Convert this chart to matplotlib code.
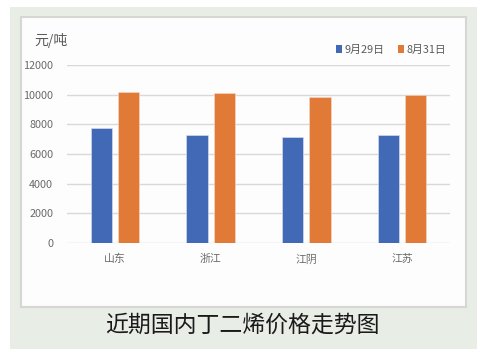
import numpy as np
import matplotlib
matplotlib.use("Agg")
import matplotlib.pyplot as plt
from matplotlib.patches import Rectangle, Patch

plt.rcParams['font.family'] = ['Noto Sans CJK SC', 'DejaVu Sans']

regions = ['山东', '浙江', '江阴', '江苏']
sep29 = [7750, 7300, 7150, 7300]
aug31 = [10150, 10100, 9850, 9950]
series_names = ['9月29日', '8月31日']
yticks = [0, 2000, 4000, 6000, 8000, 10000, 12000]
title = '近期国内丁二烯价格走势图'

W, H = 485, 359
fig = plt.figure(figsize=(W / 100, H / 100), dpi=100)
fig.patch.set_facecolor('white')


def px(x0, y0, x1, y1):
    # pixel box (top-left origin) -> figure fraction rect
    return (x0 / W, 1 - y1 / H), (x1 - x0) / W, (y1 - y0) / H


# greenish backdrop and white panel
xy, w, h = px(10, 7, 477, 349)
fig.patches.append(Rectangle(xy, w, h, transform=fig.transFigure,
                             facecolor='#e8ede6', edgecolor='none', zorder=0))
xy, w, h = px(21, 17, 466, 307)
fig.patches.append(Rectangle(xy, w, h, transform=fig.transFigure,
                             facecolor='#fdfdfd', edgecolor='#d6d6d2',
                             linewidth=1.5, zorder=1))

(ax_x, ax_y), ax_w, ax_h = px(67, 65, 450, 243)
ax = fig.add_axes([ax_x, ax_y, ax_w, ax_h])
ax.set_facecolor('none')
ax.set_zorder(2)

x = np.arange(len(regions))
bw = 0.22
off = 0.142
blue = '#4169b5'
orange = '#e07a36'
ax.bar(x - off, sep29, width=bw, color=blue, edgecolor='#dfe6f2',
       linewidth=0.4, zorder=3)
ax.bar(x + off, aug31, width=bw, color=orange, edgecolor='#f3dccb',
       linewidth=0.4, zorder=3)

ax.set_xlim(-0.5, len(regions) - 0.5)
ax.set_ylim(0, 12000)
ax.set_yticks(yticks)
ax.set_yticklabels([str(v) for v in yticks])
ax.set_xticks(x)
ax.set_xticklabels(regions)
ax.yaxis.grid(True, color='#d9d9d9', linewidth=1.0, zorder=0)
ax.set_axisbelow(True)
for s in ax.spines.values():
    s.set_visible(False)
ax.tick_params(axis='both', length=0, labelsize=7.8, labelcolor='#6a6a6a')
ax.tick_params(axis='x', pad=8)
ax.tick_params(axis='y', pad=10)

fig.text(34 / W, 1 - 40 / H, '元/吨', fontsize=10, color='#5a5a5a',
         ha='left', va='center', zorder=5)

handles = [Patch(facecolor=blue), Patch(facecolor=orange)]
fig.legend(handles, series_names, loc='center right',
           bbox_to_anchor=(446 / W, 1 - 50 / H), ncol=2, frameon=False,
           fontsize=7.8, labelcolor='#5a5a5a', handlelength=0.55,
           handleheight=0.75, handletextpad=0.2, columnspacing=1.3,
           borderaxespad=0, borderpad=0)

fig.text(242.5 / W, 1 - 325 / H, title, fontsize=16.5, color='#1a1a1a',
         ha='center', va='center', fontweight='medium', zorder=5)

fig.savefig('out.png', dpi=100, facecolor='white')
